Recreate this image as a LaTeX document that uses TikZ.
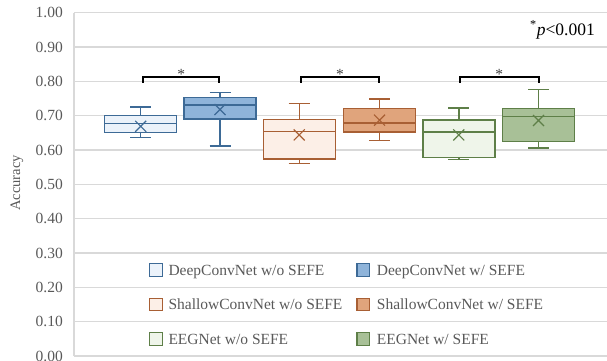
\documentclass[tikz,border=0pt]{standalone}
\usepackage{fontspec}
\setmainfont{Liberation Serif}
\definecolor{gridc}{HTML}{D9D9D9}
\definecolor{txt}{HTML}{595959}
\definecolor{bedge}{HTML}{3D6A96}
\definecolor{blight}{HTML}{EBF2FA}
\definecolor{bdark}{HTML}{8FB4DA}
\definecolor{oedge}{HTML}{A85F34}
\definecolor{olight}{HTML}{FCEFE7}
\definecolor{odark}{HTML}{E0A47C}
\definecolor{gedge}{HTML}{5E7F48}
\definecolor{glight}{HTML}{EFF5EA}
\definecolor{gdark}{HTML}{A8C097}
\newcommand\bxplot[9]{%
  \draw[#8, line width=1.4pt] (#1,#5) -- (#1,#2) (#1,#4) -- (#1,#6);
  \draw[#8, line width=1.4pt] (#1-10.5,#5) -- (#1+10.5,#5) (#1-10.5,#6) -- (#1+10.5,#6);
  \draw[#8, fill=#9, line width=1.4pt] (#1-36,#2) rectangle (#1+36,#4);
  \draw[#8, line width=1.4pt] (#1-36,#3) -- (#1+36,#3);
  \draw[#8, line width=1.2pt] ([shift={(-5.5pt,-5.5pt)}]#1,#7) -- ([shift={(5.5pt,5.5pt)}]#1,#7)
                              ([shift={(-5.5pt,5.5pt)}]#1,#7) -- ([shift={(5.5pt,-5.5pt)}]#1,#7);
}
\tikzset{
  ticklab/.style={anchor=east, inner sep=0pt, text=txt, font=\fontsize{15.5}{18}\selectfont},
  leglab/.style={anchor=base west, inner sep=0pt, text=txt, font=\fontsize{15.5}{18}\selectfont},
  legbox/.style={draw=#1, line width=1.2pt, minimum width=12.5pt, minimum height=12.5pt, inner sep=0pt},
  gridline/.style={draw=gridc, line width=1.3pt},
  bracket/.style={draw=black, line width=2.2pt, line join=miter},
  starlab/.style={anchor=base, inner sep=0pt, text=black!75, font=\fontsize{15.5}{18}\selectfont},
}
\begin{document}
\begin{tikzpicture}[x=1pt,y=1pt]
\useasboundingbox (0,0) rectangle (607,360);
\begin{scope}[yshift=4pt, y=343.3pt]
  % grid
  \foreach \v in {0.1,0.2,...,1.01} {
    \draw[gridline] (74,\v) -- (607,\v);
  }
  \draw[gridline] (74,0) -- (607,0);
  \draw[gridline] (74,0) -- (74,1);
  % tick labels
  \foreach \v/\t in {0/0.00,0.1/0.10,0.2/0.20,0.3/0.30,0.4/0.40,0.5/0.50,0.6/0.60,0.7/0.70,0.8/0.80,0.9/0.90,1/1.00} {
    \node[ticklab] (tick\t) at (63,\v) {\t};
  }
  % boxes
  \bxplot{140.7}{0.651}{0.677}{0.700}{0.636}{0.725}{0.669}{bedge}{blight}
  \bxplot{220}{0.690}{0.731}{0.7535}{0.612}{0.768}{0.718}{bedge}{bdark}
  \bxplot{299.2}{0.574}{0.654}{0.689}{0.5615}{0.735}{0.644}{oedge}{olight}
  \bxplot{379.5}{0.652}{0.679}{0.7216}{0.6276}{0.749}{0.687}{oedge}{odark}
  \bxplot{458.8}{0.579}{0.6526}{0.6875}{0.5723}{0.7224}{0.644}{gedge}{glight}
  \bxplot{538.5}{0.6247}{0.698}{0.7207}{0.606}{0.7768}{0.686}{gedge}{gdark}
  % brackets
  \coordinate (b1l) at (143.3,0.796); \coordinate (b1r) at (219.3,0.796);
  \coordinate (b2l) at (301.3,0.796); \coordinate (b2r) at (378.7,0.796);
  \coordinate (b3l) at (460,0.796);   \coordinate (b3r) at (538.7,0.796);
  \draw[bracket] (b1l) -- ++(0,0.016) -| (b1r);
  \draw[bracket] (b2l) -- ++(0,0.016) -| (b2r);
  \draw[bracket] (b3l) -- ++(0,0.016) -| (b3r);
  \node[starlab] (s1) at (181.3,0.806) {*};
  \node[starlab] (s2) at (340,0.806) {*};
  \node[starlab] (s3) at (499.3,0.806) {*};
\end{scope}
% axis title
\node[rotate=90, inner sep=0pt, text=txt, font=\fontsize{14.5}{18}\selectfont] (ytitle) at (17,177) {Accuracy};
% p-value note
\node[anchor=base east, inner sep=0pt, font=\fontsize{17.5}{20}\selectfont] (pnote) at (595,325) {\textsuperscript{*}\textit{p}<0.001};
% legend
\node[legbox=bedge, fill=blight] (lg1) at (156,90) {};
\node[leglab] (lt1) at (168.3,85) {DeepConvNet w/o SEFE};
\node[legbox=bedge, fill=bdark] (lg2) at (363.3,90) {};
\node[leglab] (lt2) at (376.7,85) {DeepConvNet w/ SEFE};
\node[legbox=oedge, fill=olight] (lg3) at (156,55.5) {};
\node[leglab] (lt3) at (168.3,50.5) {ShallowConvNet w/o SEFE};
\node[legbox=oedge, fill=odark] (lg4) at (363.3,55.5) {};
\node[leglab] (lt4) at (376.7,50.5) {ShallowConvNet w/ SEFE};
\node[legbox=gedge, fill=glight] (lg5) at (156,21) {};
\node[leglab] (lt5) at (168.3,16) {EEGNet w/o SEFE};
\node[legbox=gedge, fill=gdark] (lg6) at (363.3,21) {};
\node[leglab] (lt6) at (376.7,16) {EEGNet w/ SEFE};
\end{tikzpicture}
\end{document}
